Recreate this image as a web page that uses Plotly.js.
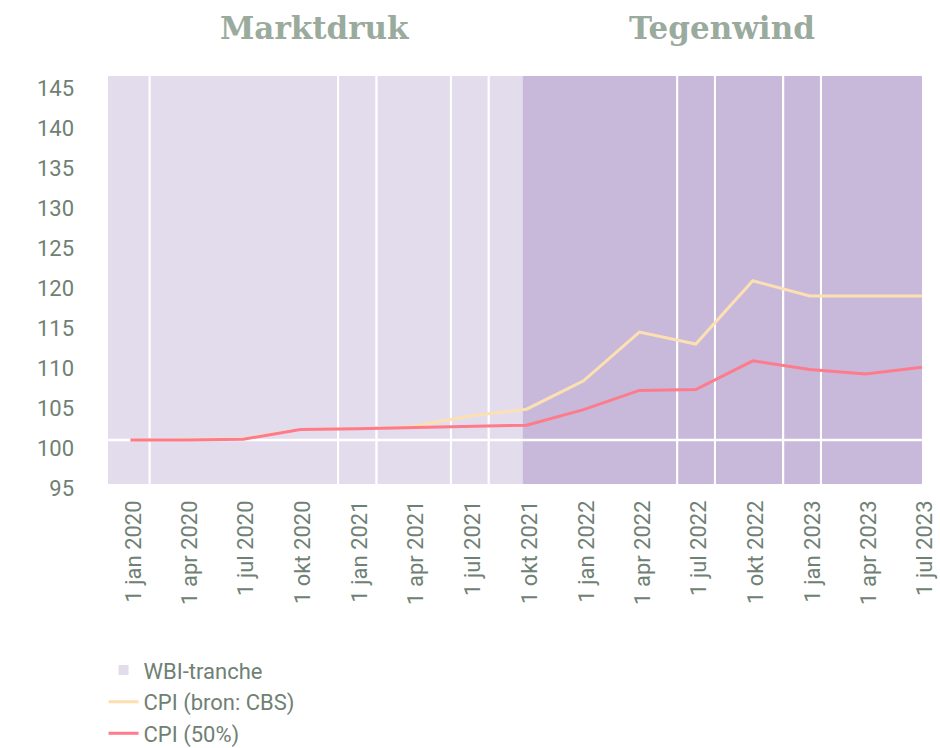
<!DOCTYPE html>
<html><head><meta charset="utf-8">
<script src="https://cdn.plot.ly/plotly-3.0.1.min.js"></script>
<style>html,body{margin:0;padding:0;background:#fff}#chart{width:940px;height:748px}</style>
</head><body><div id="chart"></div>
<script>
// ---- data ----
const quarters = ['2020-01-01','2020-04-01','2020-07-01','2020-10-01','2021-01-01','2021-04-01','2021-07-01','2021-10-01','2022-01-01','2022-04-01','2022-07-01','2022-10-01','2023-01-01','2023-04-01','2023-07-01'];
const tickLabels = ['1 jan 2020','1 apr 2020','1 jul 2020','1 okt 2020','1 jan 2021','1 apr 2021','1 jul 2021','1 okt 2021','1 jan 2022','1 apr 2022','1 jul 2022','1 okt 2022','1 jan 2023','1 apr 2023','1 jul 2023'];
const cpiCBS = [100.0,100.1,100.2,101.3,101.4,101.7,103.0,103.85,107.4,113.5,112.0,119.9,118.0,118.0,118.0];
const cpi50  = [100.0,100.0,100.1,101.3,101.4,101.55,101.7,101.85,103.8,106.2,106.3,109.9,108.8,108.25,109.1];
const trancheStart = ['2019-10-01','2020-02-01','2020-12-01','2021-02-01','2021-06-01','2021-08-01','2022-06-01','2022-08-01','2022-11-19','2023-01-19'];
const trancheEnd   = ['2020-02-01','2020-12-01','2021-02-01','2021-06-01','2021-08-01','2022-06-01','2022-08-01','2022-11-19','2023-01-19','2023-09-01'];
const phaseNames = ['Marktdruk','Tegenwind'];
const phaseStart = ['2019-11-25 17:00','2021-09-25'];
const phaseEnd   = ['2021-09-25','2023-07-01'];
const baseline = 100;

// ---- styling ----
const xRange = ['2019-11-25 17:00','2023-07-01'];
const yRange = [94.5, 145.5];
const textColor = '#6f8074';
const font = 'Roboto, "Open Sans", sans-serif';

const t = s => new Date(s.replace(' ','T')+'Z').getTime();
const iso = ms => new Date(ms).toISOString().replace('T',' ').replace('Z','');

const barX = trancheStart.map((s,i)=>iso((t(s)+t(trancheEnd[i]))/2));
const barW = trancheStart.map((s,i)=>t(trancheEnd[i])-t(s));

const traces = [
  {type:'bar', name:'WBI-tranche', x:barX, width:barW,
   y:barX.map(()=>yRange[1]-yRange[0]+4), base:yRange[0]-2,
   marker:{color:'rgba(200,185,218,0.5)', line:{color:'#ffffff', width:2}},
   hoverinfo:'skip'},
  {type:'scatter', mode:'lines', x:[xRange[0], xRange[1]], y:[baseline, baseline],
   line:{color:'#ffffff', width:2.5}, showlegend:false, hoverinfo:'skip'},
  {type:'scatter', mode:'lines', name:'CPI (bron: CBS)', x:quarters, y:cpiCBS,
   line:{color:'#fde0b2', width:3}},
  {type:'scatter', mode:'lines', name:'CPI (50%)', x:quarters, y:cpi50,
   line:{color:'#fd7b8b', width:3}}
];

const shapes = [{type:'rect', xref:'x', yref:'paper', x0:phaseStart[1], x1:phaseEnd[1], y0:0, y1:1,
  fillcolor:'#c8b9da', line:{width:0}, layer:'below'}];

const annotations = phaseNames.map((n,i)=>({
  text:'<b>'+n+'</b>', xref:'x', yref:'paper',
  x: iso((t(phaseStart[i])+t(phaseEnd[i]))/2), y:1.117, yanchor:'middle', xanchor:'center',
  showarrow:false, font:{family:'"DejaVu Serif", serif', size:31, color:'#9aab9e'}
}));

const layout = {
  width:940, height:748,
  margin:{l:107.5, r:18.3, t:75.7, b:264, autoexpand:false},
  paper_bgcolor:'#ffffff', plot_bgcolor:'#ffffff',
  font:{family:font, size:22, color:textColor},
  showlegend:true,
  legend:{x:-0.0055, xanchor:'left', y:-0.405, yanchor:'top', orientation:'v',
          font:{family:font, size:22, color:textColor}, bgcolor:'rgba(0,0,0,0)', tracegroupgap:0},
  bargap:0,
  xaxis:{type:'date', range:xRange, tickmode:'array', tickvals:quarters, ticktext:tickLabels,
         tickangle:-90, showgrid:false, zeroline:false, showline:false, ticks:'',
         ticklabelstandoff:11, ticklabelshift:3,
         tickfont:{family:font, size:22, color:textColor}},
  yaxis:{range:yRange, tick0:95, dtick:5, showgrid:false, zeroline:false, showline:false, ticks:'',
         ticklabelshift:8, ticklabelstandoff:33,
         tickfont:{family:font, size:22, color:textColor}},
  shapes:shapes, annotations:annotations
};

Plotly.newPlot('chart', traces, layout, {staticPlot:true, displayModeBar:false});
</script></body></html>
